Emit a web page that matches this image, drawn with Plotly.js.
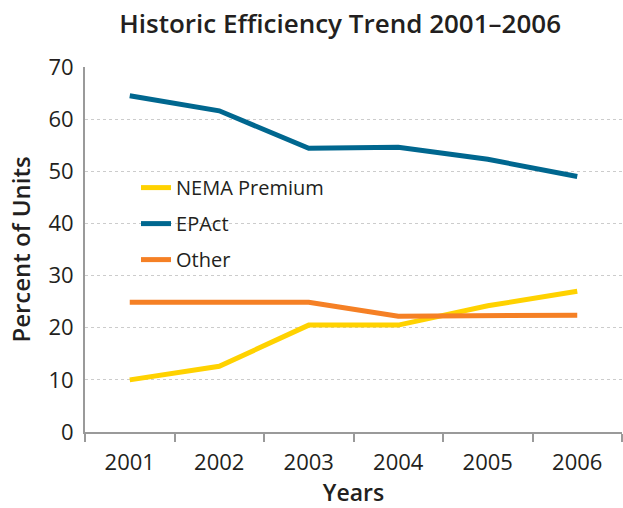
<!DOCTYPE html>
<html><head><meta charset="utf-8">
<script src="https://cdn.plot.ly/plotly-3.0.1.min.js"></script>
<style>body{margin:0;background:#fff}#c{width:623px;height:508px}</style>
</head><body><div id="c"></div>
<script>
const years = ['2001','2002','2003','2004','2005','2006'];
const nemaPremium = [10.0, 12.6, 20.5, 20.5, 24.2, 27.0];
const epact = [64.5, 61.6, 54.4, 54.6, 52.3, 49.0];
const other = [24.9, 24.9, 24.9, 22.2, 22.4, 22.4];
const seriesNames = ['NEMA Premium','EPAct','Other'];
const colors = ['#ffd200','#00678f','#f58025'];

const font = '"Open Sans", "Noto Sans", sans-serif';
const vals = [nemaPremium, epact, other];
const traces = vals.map((v,i)=>({
  x: years, y: v, name: seriesNames[i], type:'scatter', mode:'lines',
  line:{color:colors[i], width:5}, legendgroup:'g'+i
}));

const layout = {
  width:623, height:508,
  margin:{l:85, r:1, t:67, b:76},
  paper_bgcolor:'#fff', plot_bgcolor:'#fff',
  font:{family:font, color:'#231f20'},
  title:{text:'Historic Efficiency Trend 2001–2006', x:0.546, xanchor:'center', y:0.953, yanchor:'middle',
         font:{family:font, size:26, color:'#231f20', weight:600}},
  xaxis:{type:'category', range:[-0.5,5.5], showgrid:false, showline:true, linecolor:'#9a9a9a', linewidth:2,
         ticks:'outside', tickson:'boundaries', ticklen:8, tickwidth:2, tickcolor:'#9a9a9a',
         tickfont:{size:22, color:'#231f20'}, ticklabelstandoff:10,
         title:{text:'Years', font:{size:23, weight:600, color:'#231f20'}, standoff:10}, zeroline:false, fixedrange:true},
  yaxis:{range:[0,70], dtick:10, showgrid:true, gridcolor:'#cccccc', gridwidth:1, griddash:'3px,3px',
         showline:true, linecolor:'#9a9a9a', linewidth:2, zeroline:false, ticks:'',
         tickfont:{size:22, color:'#231f20'}, ticklabelstandoff:5,
         title:{text:'Percent of Units', font:{size:24, weight:600, color:'#231f20'}, standoff:11}, fixedrange:true},
  showlegend:true,
  legend:{x:0.095, y:0.723, xanchor:'left', yanchor:'top', bgcolor:'rgba(0,0,0,0)',
          font:{size:20, color:'#231f20'}, traceorder:'grouped', tracegroupgap:7},
};
Plotly.newPlot('c', traces, layout, {displayModeBar:false, staticPlot:true});
</script></body></html>
